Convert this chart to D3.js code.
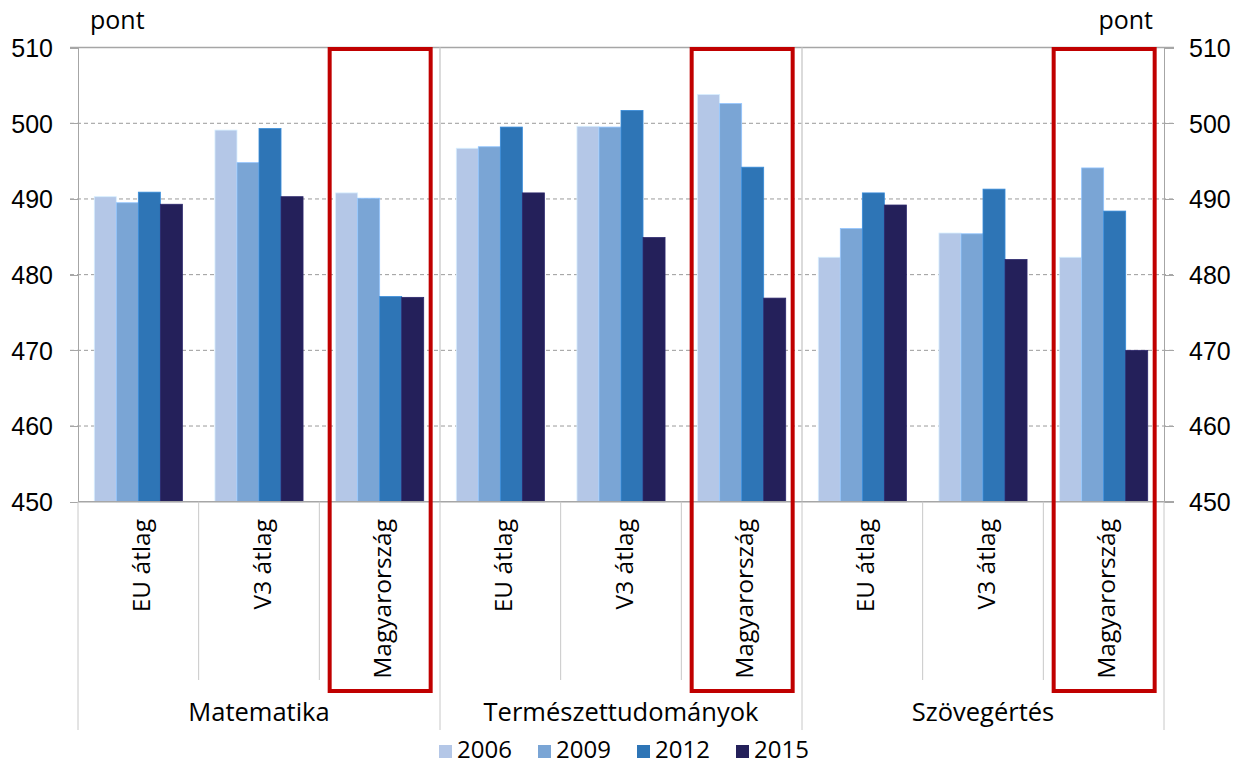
<!DOCTYPE html>
<html lang="hu">
<head>
<meta charset="UTF-8">
<title>PISA eredmények</title>
<script src="https://d3js.org/d3.v7.min.js"></script>
<style>
    body { margin: 0; background: #fff; }
    svg { font-family: "Open Sans", Arial, sans-serif; }
    .axis path, .axis line { stroke: #a6a6a6; shape-rendering: crispEdges; }
    .axis text { font-size: 25px; fill: #000; }
</style>
</head>
<body>
<svg id="chart" width="1237" height="765"></svg>
<script>
    // data
    const subjects = ["Matematika", "Természettudományok", "Szövegértés"];
    const regions = ["EU átlag", "V3 átlag", "Magyarország"];
    const years = ["2006", "2009", "2012", "2015"];
    const s2006 = [490.3, 499.1, 490.8, 496.7, 499.6, 503.8, 482.3, 485.5, 482.3];
    const s2009 = [489.5, 494.8, 490.1, 496.9, 499.5, 502.6, 486.1, 485.4, 494.1];
    const s2012 = [490.9, 499.3, 477.1, 499.5, 501.7, 494.2, 490.8, 491.3, 488.4];
    const s2015 = [489.3, 490.3, 477.0, 490.8, 484.9, 476.9, 489.2, 482.0, 470.0];
    const yTicks = [450, 460, 470, 480, 490, 500, 510];
    const highlight = "Magyarország";

    const colors = ["#b4c7e7", "#7aa5d5", "#2e75b6", "#24205a"];
    const series = [s2006, s2009, s2012, s2015];

    const pLeft = 78, pRight = 1164, pTop = 47.6, pBottom = 501.7;

    // one entry per category: subject + region
    const cats = [];
    subjects.forEach(s => regions.forEach(r => cats.push({ subject: s, region: r, key: s + "|" + r })));

    const svg = d3.select("#chart");

    const x = d3.scaleBand().domain(cats.map(d => d.key)).range([pLeft, pRight]);
    const xGroup = d3.scaleBand().domain(subjects).range([pLeft, pRight]);
    const xYear = d3.scaleBand().domain(years).range([0, x.bandwidth()]).paddingOuter(0.74);
    const y = d3.scaleLinear().domain([450, 510]).range([pBottom, pTop]);

    // dashed gridlines
    svg.append("g")
        .selectAll("line")
        .data(yTicks.filter(t => t > 450 && t < 510))
        .enter().append("line")
        .attr("x1", pLeft - 8).attr("x2", pRight + 10)
        .attr("y1", d => y(d)).attr("y2", d => y(d))
        .attr("stroke", "#9a9a9a")
        .attr("stroke-dasharray", "4,3");

    // top border
    svg.append("line")
        .attr("x1", pLeft - 8).attr("x2", pRight + 10)
        .attr("y1", y(510)).attr("y2", y(510))
        .attr("stroke", "#a6a6a6").attr("stroke-width", 1.5);

    // vertical subject separators inside the plot
    svg.append("g")
        .selectAll("line")
        .data(subjects.slice(1))
        .enter().append("line")
        .attr("x1", d => xGroup(d)).attr("x2", d => xGroup(d))
        .attr("y1", pTop).attr("y2", pBottom)
        .attr("stroke", "#cfcfcf").attr("stroke-width", 1.5);

    // bars
    const rows = [];
    cats.forEach((c, i) => years.forEach((yr, j) => rows.push({ cat: c, year: yr, value: series[j][i], color: colors[j] })));

    svg.append("g")
        .selectAll("rect")
        .data(rows)
        .enter().append("rect")
        .attr("x", d => x(d.cat.key) + xYear(d.year))
        .attr("width", xYear.bandwidth())
        .attr("y", d => y(d.value))
        .attr("height", d => y(450) - y(d.value))
        .attr("fill", d => d.color)
        .attr("stroke", d => d3.color(d.color).brighter(0.5))
        .attr("stroke-width", 0.8);

    // axes
    svg.append("g")
        .attr("class", "axis")
        .attr("transform", `translate(${pLeft},0)`)
        .call(d3.axisLeft(y).tickValues(yTicks).tickSize(8).tickPadding(17).tickSizeOuter(0))
        .selectAll("text").attr("dy", "0.35em");

    svg.append("g")
        .attr("class", "axis")
        .attr("transform", `translate(${pRight},0)`)
        .call(d3.axisRight(y).tickValues(yTicks).tickSize(10).tickPadding(15).tickSizeOuter(0))
        .selectAll("text").attr("dy", "0.35em");

    svg.append("line")
        .attr("x1", pLeft).attr("x2", pRight + 10)
        .attr("y1", pBottom).attr("y2", pBottom)
        .attr("stroke", "#a6a6a6").attr("stroke-width", 1.5);

    // category separators under the axis
    svg.append("g")
        .selectAll("line")
        .data(cats.filter(c => c.region !== regions[0]))
        .enter().append("line")
        .attr("x1", d => x(d.key)).attr("x2", d => x(d.key))
        .attr("y1", pBottom).attr("y2", 680)
        .attr("stroke", "#c8c8c8");

    svg.append("g")
        .selectAll("line")
        .data(subjects.map(s => xGroup(s)).concat([pRight]))
        .enter().append("line")
        .attr("x1", d => d).attr("x2", d => d)
        .attr("y1", pBottom).attr("y2", 730)
        .attr("stroke", "#c8c8c8");

    // rotated region labels
    svg.append("g")
        .selectAll("text")
        .data(cats)
        .enter().append("text")
        .attr("transform", d => `translate(${x(d.key) + x.bandwidth() / 2 + 3},519) rotate(-90)`)
        .attr("text-anchor", "end")
        .attr("dy", "0.35em")
        .style("font-size", "24.5px")
        .text(d => d.region);

    // subject labels
    svg.append("g")
        .selectAll("text")
        .data(subjects)
        .enter().append("text")
        .attr("x", d => xGroup(d) + xGroup.bandwidth() / 2)
        .attr("y", 721)
        .attr("text-anchor", "middle")
        .style("font-size", "25.5px")
        .text(d => d);

    // red highlight frames
    svg.append("g")
        .selectAll("rect")
        .data(cats.filter(c => c.region === highlight))
        .enter().append("rect")
        .attr("x", d => x(d.key) + x.bandwidth() / 2 - 50)
        .attr("width", 101)
        .attr("y", 49)
        .attr("height", 642)
        .attr("fill", "none")
        .attr("stroke", "#c00000")
        .attr("stroke-width", 4);

    // unit labels
    svg.append("text").attr("x", 90).attr("y", 29).style("font-size", "25px").text("pont");
    svg.append("text").attr("x", 1153).attr("y", 29).attr("text-anchor", "end").style("font-size", "25px").text("pont");

    // legend
    const legend = svg.append("g")
        .selectAll("g")
        .data(years)
        .enter().append("g")
        .attr("transform", (d, i) => `translate(${439 + i * 99},745)`);
    legend.append("rect").attr("width", 13).attr("height", 13).attr("fill", (d, i) => colors[i]);
    legend.append("text").attr("x", 18).attr("y", 13).style("font-size", "24px").text(d => d);
</script>
</body>
</html>
